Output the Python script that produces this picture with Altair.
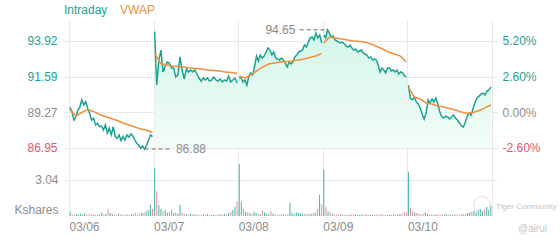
import altair as alt
import pandas as pd

FONT = "Liberation Sans, Arial, sans-serif"
TEAL = "#1ba392"
ORANGE = "#f0903c"
GREY = "#8c8c8c"
RED = "#e5566e"
GRID = "#e8e8e8"

dates = ["03/06", "03/07", "03/08", "03/09", "03/10"]

price_d1 = [89.60, 89.31, 88.77, 88.99, 89.42, 89.60, 90.08, 89.75, 89.97, 89.54, 89.21, 88.77, 88.88,
            88.45, 88.56, 88.34, 88.38, 88.12, 88.45, 87.91, 88.23, 87.80, 88.34, 87.69, 87.58, 87.80,
            87.43, 87.69, 87.47, 87.80, 87.65, 87.86, 87.73, 87.47, 87.25, 87.14, 86.93, 87.08, 86.88,
            87.14, 87.47, 87.80, 87.69]
price_d2 = [94.53, 91.05, 92.68, 93.33, 91.90, 92.29, 92.55, 92.49, 92.16, 92.16, 91.57, 91.71, 92.88,
            92.03, 91.44, 92.10, 91.90, 92.03, 91.90, 92.03, 91.77, 91.51, 91.31, 91.51, 91.38, 91.51,
            91.31, 91.38, 91.57, 91.38, 91.31, 91.44, 91.25, 91.38, 91.31, 91.64, 91.25, 91.38, 91.51,
            91.18]
price_d3 = [91.51, 91.51, 91.25, 91.38, 91.05, 91.64, 91.84, 91.71, 92.23, 92.94, 92.62, 93.01, 92.81,
            92.94, 93.20, 93.46, 93.33, 93.01, 93.20, 92.81, 92.75, 92.68, 92.81, 92.68, 92.49, 92.23,
            92.55, 92.42, 92.55, 92.88, 93.01, 93.20, 93.27, 93.33, 93.66, 93.53, 93.85, 94.12, 94.18,
            93.99, 94.44, 94.12, 94.31, 93.79]
price_d4 = [94.31, 94.12, 94.65, 94.44, 94.18, 94.25, 93.99, 93.92, 93.85, 93.79, 93.85, 93.72, 93.59,
            93.53, 93.66, 93.46, 93.33, 93.40, 93.20, 93.27, 93.33, 93.14, 93.07, 93.01, 92.81, 92.88,
            92.68, 92.75, 92.68, 92.36, 91.90, 92.16, 92.03, 91.84, 92.16, 92.16, 91.97, 92.03, 91.90,
            92.03, 91.77, 91.90, 91.84, 91.64, 91.57]
price_d5 = [91.05, 90.21, 90.08, 90.27, 89.95, 89.82, 89.56, 89.16, 88.84, 89.23, 90.08, 89.88, 90.14,
            89.95, 90.21, 89.82, 89.29, 88.97, 88.90, 89.03, 88.97, 88.84, 88.97, 89.10, 88.90, 88.77,
            88.58, 88.38, 88.32, 88.64, 89.03, 89.23, 89.10, 89.56, 89.95, 90.21, 90.34, 90.47, 90.53,
            90.40, 90.66, 90.73, 90.92]

vwap_d1 = [89.42, 89.03, 89.26, 89.46, 89.33, 89.13, 89.00, 88.87, 88.74, 88.58, 88.45, 88.32, 88.19, 88.10, 87.96]
vwap_d2 = [93.14, 92.45, 92.36, 92.29, 92.26, 92.23, 92.16, 92.13, 92.10, 92.03, 92.00, 91.97, 91.90, 91.87, 91.80]
vwap_d3 = [91.64, 91.51, 91.71, 91.97, 92.23, 92.42, 92.49, 92.55, 92.58, 92.62, 92.68, 92.75, 92.85, 92.94, 93.11]
vwap_d4 = [93.79, 94.18, 94.12, 94.05, 93.99, 93.92, 93.89, 93.85, 93.72, 93.56, 93.40, 93.20, 93.07, 92.94, 92.55]
vwap_d5 = [90.92, 90.27, 90.14, 89.88, 89.82, 89.69, 89.62, 89.52, 89.42, 89.29, 89.20, 89.26, 89.39, 89.56, 89.75]

vol_d1 = [0.35, 0.15, 0.12, 0.2, 0.1, 0.18, 0.12, 0.25, 0.1, 0.15, 0.2, 0.12, 0.1, 0.08, 0.15, 0.3, 0.12, 0.2,
          0.6, 0.25, 0.15, 0.1, 0.12, 0.2, 0.15, 0.1, 0.08, 0.12, 0.1, 0.15, 0.2, 0.25, 0.15, 0.2, 0.3, 0.25,
          0.4, 0.5, 0.95, 0.6]
vol_d2 = [4.05, 2.1, 0.9, 0.6, 0.4, 0.5, 0.3, 0.35, 0.55, 0.25, 0.3, 0.2, 0.95, 0.3, 0.2, 0.15, 0.12, 0.2,
          0.1, 0.15, 0.12, 0.1, 0.08, 0.12, 0.1, 0.15, 0.1, 0.08, 0.12, 0.1, 0.15, 0.1, 0.12, 0.2, 0.15, 0.25,
          0.35, 0.5, 0.8, 1.25]
vol_d3 = [4.4, 1.2, 0.6, 0.35, 0.3, 0.25, 0.2, 0.35, 0.25, 0.2, 0.15, 0.45, 0.3, 0.2, 0.15, 0.4, 0.2, 0.15,
          0.12, 0.1, 0.12, 0.15, 0.1, 0.2, 1.12, 0.25, 0.15, 0.3, 0.25, 0.2, 0.15, 0.12, 0.2, 0.15, 0.2, 0.25,
          0.3, 0.6, 1.8, 1.0]
vol_d4 = [3.94, 0.8, 0.4, 0.3, 0.2, 0.15, 0.12, 0.1, 0.15, 0.1, 0.12, 0.08, 0.1, 0.12, 0.15, 0.1, 0.08, 0.1,
          0.12, 0.1, 0.15, 0.12, 0.1, 0.08, 0.1, 0.12, 0.1, 0.15, 0.12, 0.1, 0.08, 0.1, 0.12, 0.15, 0.1, 0.12,
          0.15, 0.2, 0.35, 0.3]
vol_d5 = [3.74, 0.7, 0.4, 0.3, 0.25, 0.2, 0.15, 0.2, 0.3, 0.15, 0.12, 0.1, 0.15, 0.1, 0.12, 0.08, 0.1, 0.12,
          0.15, 0.1, 0.12, 0.1, 0.15, 0.12, 0.1, 0.15, 0.2, 0.15, 0.25, 0.3, 0.35, 0.45, 0.3, 0.5, 0.6, 0.4,
          0.55, 0.75, 0.5, 0.85]

prev_close = 89.27
price_ticks = [86.95, 89.27, 91.59, 93.92]
pct_labels = ["-2.60%", "0.00%", "2.60%", "5.20%"]
vol_ticks = [0, 3.04]
vol_labels = ["Kshares", "3.04"]
legend_labels = ["Intraday", "VWAP"]
watermark = ["Tiger Community", "@airui"]

prices = [price_d1, price_d2, price_d3, price_d4, price_d5]
vwaps = [vwap_d1, vwap_d2, vwap_d3, vwap_d4, vwap_d5]
vols = [vol_d1, vol_d2, vol_d3, vol_d4, vol_d5]

PRICE_DOMAIN = [82.519, 95.288]
VOL_DOMAIN = [0, 16.55]
AREA_FLOOR = 86.95


def tpos(d, i, n):
    return d + 0.012 + 0.975 * i / (n - 1)


price_rows, vwap_rows, vol_rows = [], [], []
for d, vals in enumerate(prices):
    for i, v in enumerate(vals):
        price_rows.append({"t": tpos(d, i, len(vals)), "day": d, "price": v})
for d, vals in enumerate(vwaps):
    for i, v in enumerate(vals):
        vwap_rows.append({"t": tpos(d, i, len(vals)), "day": d, "price": v})
for d, vals in enumerate(vols):
    p = prices[d]
    for i, v in enumerate(vals):
        j = round(i * (len(p) - 1) / (len(vals) - 1))
        up = (i == 0) or p[j] >= p[j - 1]
        vol_rows.append({"t": tpos(d, i, len(vals)), "day": d, "vol": v, "dir": "up" if up else "down"})

df_price = pd.DataFrame(price_rows)
df_vwap = pd.DataFrame(vwap_rows)
df_vol = pd.DataFrame(vol_rows)
df_area = df_price[df_price["day"] >= 1]

# annotations from data
imax = df_price["price"].idxmax()
imin = df_price["price"].idxmin()
tmax, pmax = float(df_price.loc[imax, "t"]), float(df_price.loc[imax, "price"])
tmin, pmin = float(df_price.loc[imin, "t"]), float(df_price.loc[imin, "price"])
df_ann_rule = pd.DataFrame([
    {"t": tmax - 0.33, "t2": tmax, "price": pmax},
    {"t": tmin, "t2": tmin + 0.33, "price": pmin},
])
df_ann_max = pd.DataFrame([{"t": tmax - 0.38, "price": pmax, "label": f"{pmax:.2f}"}])
df_ann_min = pd.DataFrame([{"t": tmin + 0.37, "price": pmin, "label": f"{pmin:.2f}"}])

xscale = alt.Scale(domain=[0, 5], nice=False, zero=False)
date_expr = "[" + ",".join(f"'{d}'" for d in dates) + ",''][datum.value]"
x_axis = alt.Axis(values=[0, 1, 2, 3, 4, 5], labelExpr=date_expr, labelAlign="left", grid=True,
                  gridColor=GRID, domain=False, ticks=False, labelColor=GREY, labelFontSize=12,
                  labelFont=FONT, labelPadding=5, title=None)
X = alt.X("t:Q", scale=xscale, axis=x_axis)
pscale = alt.Scale(domain=PRICE_DOMAIN, nice=False, zero=False)

label_color = {
    "condition": [
        {"test": f"datum.value > {prev_close} + 0.001", "value": TEAL},
        {"test": f"datum.value < {prev_close} - 0.001", "value": RED},
    ],
    "value": GREY,
}

left_axis = alt.Axis(values=price_ticks, format=".2f", orient="left", grid=True, gridColor=GRID,
                     domain=False, ticks=False, labelColor=label_color, labelFontSize=12,
                     labelFont=FONT, labelPadding=7, title=None)
pct_expr = "{" + ",".join(f"'{v:.2f}':'{l}'" for v, l in zip(price_ticks, pct_labels)) + "}[format(datum.value, '.2f')]"
right_axis = alt.Axis(values=price_ticks, labelExpr=pct_expr, orient="right", grid=False,
                      domain=False, ticks=False, labelColor=label_color, labelFontSize=12,
                      labelFont=FONT, labelPadding=5, title=None)
vol_expr = "{" + ",".join(f"'{v}':'{l}'" for v, l in zip(vol_ticks, vol_labels)) + "}[datum.value + '']"
vol_axis = alt.Axis(values=vol_ticks, labelExpr=vol_expr, orient="left", grid=True,
                    gridColor={"condition": {"test": "datum.value == 0", "value": "rgba(0,0,0,0)"}, "value": GRID},
                    domain=False, ticks=False, labelColor=GREY, labelFontSize=12, labelFont=FONT,
                    labelPadding=6, title=None,
                    labelBaseline={"condition": {"test": "datum.value == 0", "value": "bottom"}, "value": "middle"})

gradient = alt.Gradient(
    gradient="linear",
    stops=[alt.GradientStop(color="#d3f6e8", offset=0), alt.GradientStop(color="#f3fcf8", offset=1)],
    x1=1, x2=1, y1=0, y2=1,
)

area = alt.Chart(df_area).mark_area(color=gradient).encode(
    x=X,
    y=alt.Y("price:Q", scale=pscale, axis=None),
    y2=alt.datum(AREA_FLOOR),
)

vol = alt.Chart(df_vol).mark_bar(size=1).encode(
    x=X,
    y=alt.Y("vol:Q", scale=alt.Scale(domain=VOL_DOMAIN, nice=False, zero=True), axis=vol_axis),
    color=alt.Color("dir:N", scale=alt.Scale(domain=["up", "down"], range=["#3db3a5", "#ef8a9b"]), legend=None),
)

line = alt.Chart(df_price).mark_line(color=TEAL, strokeWidth=1.5).encode(
    x=X,
    y=alt.Y("price:Q", scale=pscale, axis=left_axis),
    detail="day:N",
)

vwap = alt.Chart(df_vwap).mark_line(color=ORANGE, strokeWidth=1.5).encode(
    x=X,
    y=alt.Y("price:Q", scale=pscale, axis=right_axis),
    detail="day:N",
)

ann_rule = alt.Chart(df_ann_rule).mark_rule(color="#999999", strokeWidth=1.5, strokeDash=[4, 3]).encode(
    x=X,
    x2="t2:Q",
    y=alt.Y("price:Q", scale=pscale, axis=None),
)

ann_max = alt.Chart(df_ann_max).mark_text(font=FONT, fontSize=12, color=GREY, baseline="middle", align="right").encode(
    x=X, y=alt.Y("price:Q", scale=pscale, axis=None), text="label:N",
)
ann_min = alt.Chart(df_ann_min).mark_text(font=FONT, fontSize=12, color=GREY, baseline="middle", align="left").encode(
    x=X, y=alt.Y("price:Q", scale=pscale, axis=None), text="label:N",
)

leg1 = alt.Chart(pd.DataFrame({"label": [legend_labels[0]]})).mark_text(
    font=FONT, fontSize=12, align="left", baseline="middle", color=TEAL
).encode(x=alt.value(0), y=alt.value(-10), text="label:N")
leg2 = alt.Chart(pd.DataFrame({"label": [legend_labels[1]]})).mark_text(
    font=FONT, fontSize=12, align="left", baseline="middle", color=ORANGE
).encode(x=alt.value(56), y=alt.value(-10), text="label:N")

logo = alt.Chart(pd.DataFrame({"k": [0]})).mark_point(
    shape="circle", size=280, filled=False, color="#d0d0d0", strokeWidth=1
).encode(x=alt.value(418), y=alt.value(185))
wm1 = alt.Chart(pd.DataFrame({"label": [watermark[0]]})).mark_text(
    font=FONT, fontSize=8, align="left", baseline="middle", color="#c4c4c4"
).encode(x=alt.value(432), y=alt.value(187), text="label:N")
wm2 = alt.Chart(pd.DataFrame({"label": [watermark[1]]})).mark_text(
    font=FONT, fontSize=10, align="left", baseline="middle", color="#c4c4c4"
).encode(x=alt.value(454), y=alt.value(209), text="label:N")

chart = alt.layer(area, vol, line, vwap, ann_rule, ann_max, ann_min, leg1, leg2, logo, wm1, wm2).resolve_scale(
    y="independent", color="independent"
).properties(
    width=433, height=196,
    autosize=alt.AutoSizeParams(type="none"),
    padding={"left": 64, "top": 20, "right": 63, "bottom": 24},
    background="white",
).configure_view(strokeWidth=0)

chart.save("out.html", embed_options={"renderer": "svg", "actions": False})
